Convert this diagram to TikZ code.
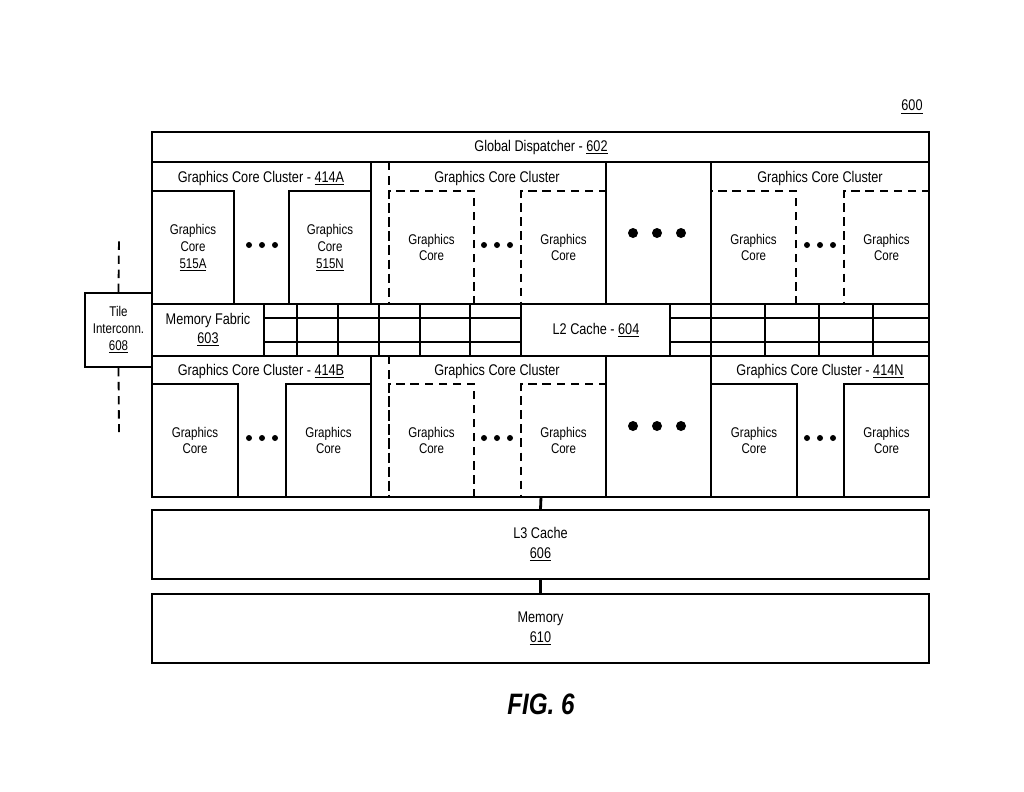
\documentclass[tikz,border=0pt]{standalone}
\usepackage{fontspec}
\setmainfont{Liberation Sans}[FakeStretch=0.82]
\usetikzlibrary{positioning,calc}
\def\pxu{0.025cm}
\begin{document}
\begin{tikzpicture}[
    x=0.025cm, y=-0.025cm,
    line width=1.3pt,
    dash pattern=on 6pt off 4pt,
    core/.style={draw, solid, inner sep=0pt, minimum height=113*\pxu, align=center, font=\fontsize{10}{12}\selectfont},
    dcore/.style={core, dash pattern=on 6pt off 4pt},
    label/.style={font=\fontsize{11}{13}\selectfont, align=center},
    bigbox/.style={draw, inner sep=0pt, minimum width=777*\pxu, minimum height=69*\pxu, align=center, font=\fontsize{11}{14}\selectfont},
    dot/.style={fill, circle, inner sep=0pt, minimum size=6*\pxu},
    bigdot/.style={fill, circle, inner sep=0pt, minimum size=10*\pxu},
    link/.style={line width=2pt},
]
\useasboundingbox (0,0) rectangle (1024,791);

\node[label] (num) at (912,107) {\underline{600}};

% dashed clusters
\draw[dash pattern=on 6pt off 4pt] (389,162) rectangle (606,304);
\draw[dash pattern=on 6pt off 4pt] (711,162) rectangle (929,304);
\draw[dash pattern=on 6pt off 4pt] (389,356) rectangle (606,497);

% outer frame and rows
\draw[solid] (152,132) rectangle (929,497);
\draw[solid] (152,162) -- (929,162);
\draw[solid] (152,304) -- (929,304);
\draw[solid] (152,356) -- (929,356);
\foreach \x in {371,606,711} {
    \draw[solid] (\x,162) -- (\x,304);
    \draw[solid] (\x,356) -- (\x,497);
}

\node[label] (disp) at (541,147) {Global Dispatcher - \underline{602}};
\node[label] (clA) at (261,178) {Graphics Core Cluster - \underline{414A}};
\node[label] (cl2) at (497,178) {Graphics Core Cluster};
\node[label] (cl3) at (820,178) {Graphics Core Cluster};
\node[label] (clB) at (261,371) {Graphics Core Cluster - \underline{414B}};
\node[label] (cl5) at (497,371) {Graphics Core Cluster};
\node[label] (clN) at (820,371) {Graphics Core Cluster - \underline{414N}};

% top cores
\node[core, minimum width=82*\pxu] (coreA) at (193,247.5) {Graphics\\Core\\\underline{515A}};
\node[core, minimum width=82*\pxu] (coreN) at (330,247.5) {Graphics\\Core\\\underline{515N}};
\node[dcore, minimum width=85*\pxu] (core2a) at (431.5,247.5) {Graphics\\Core};
\node[dcore, minimum width=85*\pxu] (core2b) at (563.5,247.5) {Graphics\\Core};
\node[dcore, minimum width=85*\pxu] (core3a) at (753.5,247.5) {Graphics\\Core};
\node[dcore, minimum width=85*\pxu] (core3b) at (886.5,247.5) {Graphics\\Core};

% bottom cores
\node[core, minimum width=86*\pxu] (coreB1) at (195,440.5) {Graphics\\Core};
\node[core, minimum width=85*\pxu] (coreB2) at (328.5,440.5) {Graphics\\Core};
\node[dcore, minimum width=85*\pxu] (core5a) at (431.5,440.5) {Graphics\\Core};
\node[dcore, minimum width=85*\pxu] (core5b) at (563.5,440.5) {Graphics\\Core};
\node[core, minimum width=86*\pxu] (coreN1) at (754,440.5) {Graphics\\Core};
\node[core, minimum width=85*\pxu] (coreN2) at (886.5,440.5) {Graphics\\Core};

% ellipses
\foreach \cx/\cy in {262/245, 497/245, 820/245, 262/438, 497/438, 820/438} {
    \foreach \d in {-13,0,13}
        \node[dot] at (\cx+\d,\cy) {};
}
\foreach \cy in {233,426} {
    \foreach \d in {-24,0,24}
        \node[bigdot] at (657+\d,\cy) {};
}

% memory fabric and L2 grid
\draw[solid] (264,304) -- (264,356);
\node[label] (fabric) at (208,330) {Memory Fabric\\\underline{603}};
\draw[solid, line width=0.9pt] (264,318) -- (521,318) (670,318) -- (929,318);
\draw[solid, line width=0.9pt] (264,342) -- (521,342) (670,342) -- (929,342);
\foreach \x in {297,338,379,420,470,521,670,711,765,819,873}
    \draw[solid, line width=0.9pt] (\x,304) -- (\x,356);
\node[label] (l2) at (596,330) {L2 Cache - \underline{604}};

% tile interconnect
\node[draw, solid, inner sep=0pt, minimum width=67*\pxu, minimum height=74*\pxu, align=center, font=\fontsize{10}{12}\selectfont] (tile) at (118.5,330) {Tile\\Interconn.\\\underline{608}};
\coordinate (tileup) at (119,237);
\coordinate (tiledn) at (119,432);
\draw (tile.north) -- (tileup);
\draw (tile.south) -- (tiledn);

% L3 and memory
\coordinate (gpu) at (541,497);
\node[bigbox, solid] (l3) at (540.5,544.5) {L3 Cache\\\underline{606}};
\node[bigbox, solid] (mem) at (540.5,628.5) {Memory\\\underline{610}};
\draw[link, solid] (gpu) -- (l3.north);
\draw[link, solid] (l3.south) -- (mem.north);

\node[font=\bfseries\itshape\fontsize{21}{24}\selectfont] (fig) at (541,704) {FIG. 6};
\end{tikzpicture}
\end{document}
